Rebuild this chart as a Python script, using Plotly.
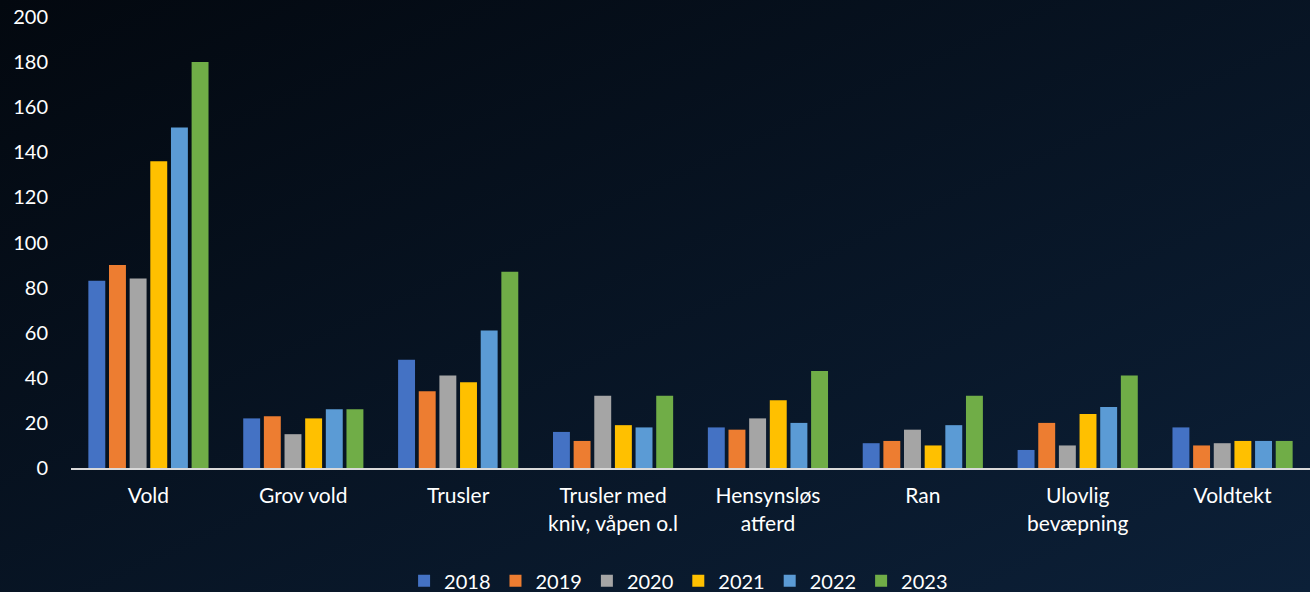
import plotly.graph_objects as go

# Données
kategorier = ["Vold", "Grov vold", "Trusler", "Trusler med<br>kniv, våpen o.l",
              "Hensynsløs<br>atferd", "Ran", "Ulovlig<br>bevæpning", "Voldtekt"]
aar = ["2018", "2019", "2020", "2021", "2022", "2023"]

v2018 = [83, 22, 48, 16, 18, 11, 8, 18]
v2019 = [90, 23, 34, 12, 17, 12, 20, 10]
v2020 = [84, 15, 41, 32, 22, 17, 10, 11]
v2021 = [136, 22, 38, 19, 30, 10, 24, 12]
v2022 = [151, 26, 61, 18, 20, 19, 27, 12]
v2023 = [180, 26, 87, 32, 43, 32, 41, 12]

y_ticks = [0, 20, 40, 60, 80, 100, 120, 140, 160, 180, 200]

verdier = [v2018, v2019, v2020, v2021, v2022, v2023]
farger = ["#4472C4", "#ED7D31", "#A5A5A5", "#FFC000", "#5B9BD5", "#70AD47"]

fig = go.Figure()
for a, v, c in zip(aar, verdier, farger):
    fig.add_trace(go.Bar(x=kategorier, y=v, name=a, marker=dict(color=c, line=dict(width=0))))

# fond dégradé (svg)
svg = ("<svg xmlns='http://www.w3.org/2000/svg' width='1310' height='592' preserveAspectRatio='none'>"
       "<defs><linearGradient id='g' x1='0' y1='0' x2='1' y2='1'>"
       "<stop offset='0' stop-color='#03080f'/><stop offset='1' stop-color='#0c2038'/>"
       "</linearGradient></defs><rect width='1310' height='592' fill='url(#g)'/></svg>")
src = "data:image/svg+xml;utf8," + svg.replace("#", "%23").replace("<", "%3C").replace(">", "%3E").replace("'", "%27")

fig.update_layout(
    width=1310, height=592,
    paper_bgcolor="#071426", plot_bgcolor="rgba(0,0,0,0)",
    font=dict(family="Lato, Open Sans, sans-serif", color="#ffffff", size=21),
    margin=dict(l=71, r=0, t=17, b=124),
    barmode="group", bargap=0.2, bargroupgap=0.18,
    showlegend=True,
    legend=dict(orientation="h", x=0.518, xanchor="center", xref="container",
                y=0.052, yanchor="top", yref="container",
                font=dict(size=20), itemwidth=30, traceorder="normal",
                bgcolor="rgba(0,0,0,0)"),
    images=[dict(source=src, xref="paper", yref="paper", x=-71/1239, y=1 + 17/451,
                 sizex=1310/1239, sizey=592/451, xanchor="left", yanchor="top",
                 sizing="stretch", layer="below")],
)
fig.update_xaxes(showline=True, linecolor="#d9d9d9", linewidth=2, showgrid=False,
                 ticks="", tickfont=dict(size=21), ticklabelstandoff=8)
fig.update_yaxes(range=[0, 200], tickvals=y_ticks, showgrid=False, zeroline=False,
                 showline=False, ticks="", tickfont=dict(size=20), ticklabelstandoff=22)

fig.write_html("out.html", config={"displayModeBar": False},
               post_script="document.body.style.margin='0';document.body.style.background='#071426';")
